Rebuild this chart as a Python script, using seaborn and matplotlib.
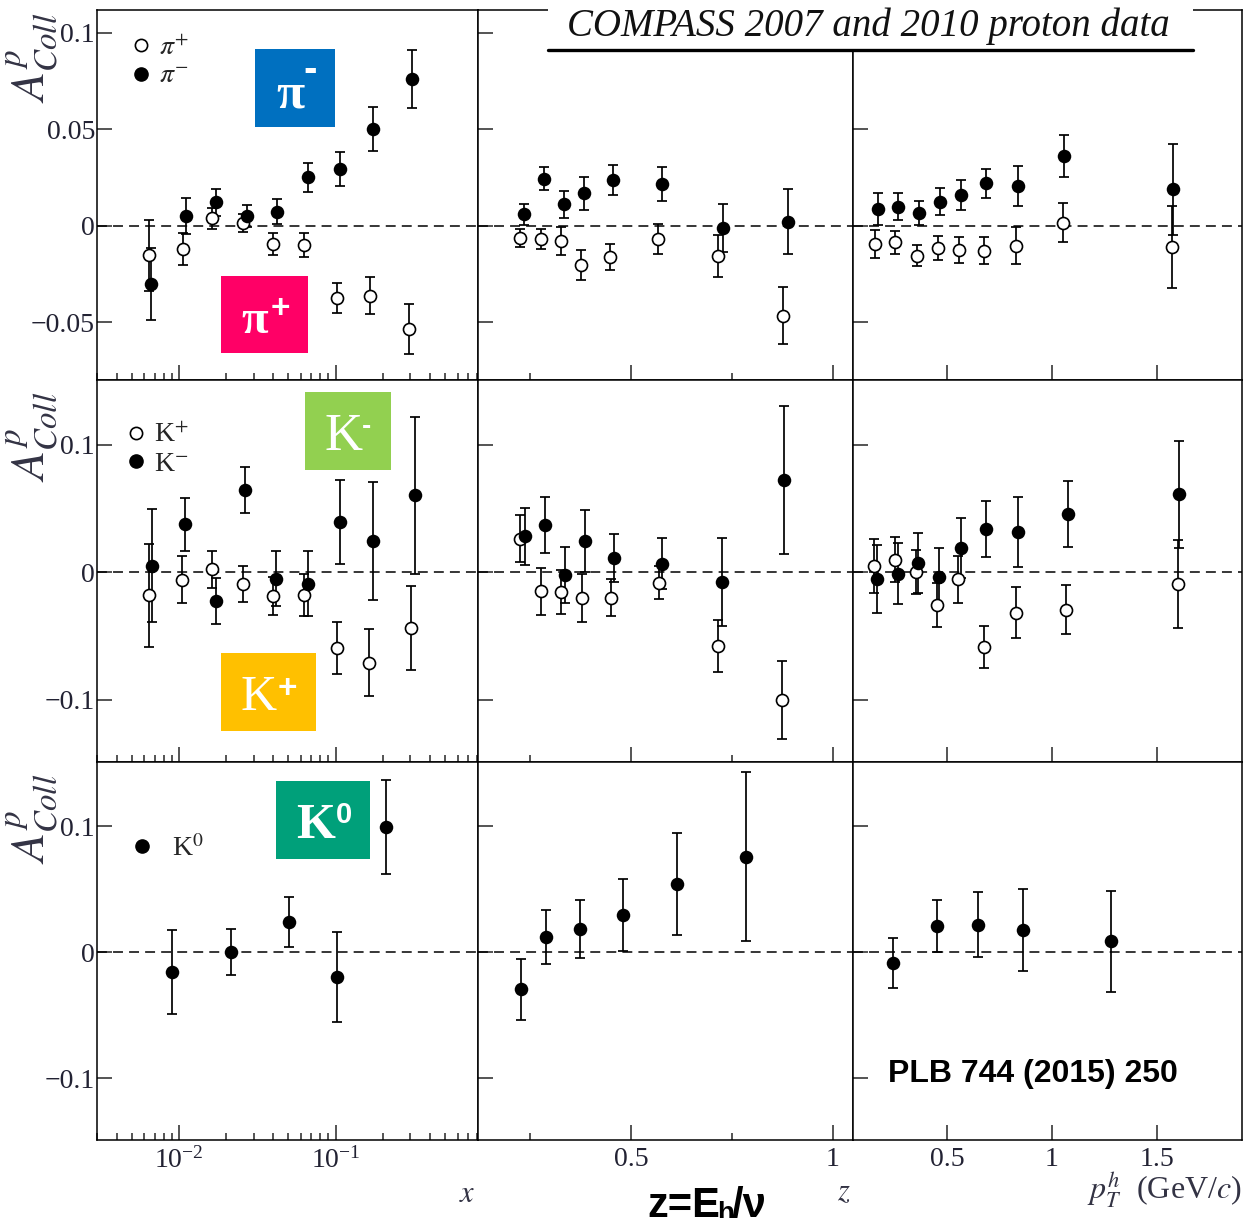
import matplotlib
matplotlib.use("Agg")
import matplotlib.pyplot as plt
import seaborn as sns
from matplotlib.lines import Line2D
from matplotlib.patches import Rectangle
from matplotlib.ticker import LogLocator, NullFormatter, FixedLocator

# ---- data: A_Coll^p vs x, z, pT ----
# pi- / pi+ , x bins
pim_x = [0.00665, 0.01114, 0.01719, 0.0270, 0.0420, 0.0664, 0.1061, 0.1734, 0.3084]
pim_x_val = [-0.0300, 0.0052, 0.0123, 0.0052, 0.0074, 0.0252, 0.0295, 0.0503, 0.0762]
pim_x_err = [0.0185, 0.0095, 0.0069, 0.0055, 0.0064, 0.0074, 0.0088, 0.0114, 0.0150]
pip_x = [0.00642, 0.01066, 0.01635, 0.0255, 0.0396, 0.0626, 0.1025, 0.1652, 0.2937]
pip_x_val = [-0.0152, -0.0121, 0.0040, 0.0017, -0.0093, -0.0098, -0.0371, -0.0361, -0.0534]
pip_x_err = [0.0183, 0.0083, 0.0055, 0.0047, 0.0055, 0.0064, 0.0078, 0.0095, 0.0130]

# pi, z bins
pim_z = [0.235, 0.285, 0.335, 0.384, 0.456, 0.576, 0.728, 0.889]
pim_z_val = [0.0060, 0.0244, 0.0112, 0.0169, 0.0238, 0.0216, -0.0012, 0.0022]
pim_z_err = [0.0055, 0.0059, 0.0069, 0.0085, 0.0076, 0.0089, 0.0124, 0.0168]
pip_z = [0.225, 0.276, 0.326, 0.375, 0.448, 0.566, 0.716, 0.877]
pip_z_val = [-0.0064, -0.0069, -0.0076, -0.0202, -0.0159, -0.0069, -0.0155, -0.0465]
pip_z_err = [0.0046, 0.0052, 0.0072, 0.0078, 0.0067, 0.0078, 0.0110, 0.0147]

# pi, pT bins
pim_pt = [0.173, 0.268, 0.367, 0.467, 0.565, 0.684, 0.837, 1.059, 1.578]
pim_pt_val = [0.0086, 0.0100, 0.0066, 0.0126, 0.0161, 0.0221, 0.0207, 0.0364, 0.0190]
pim_pt_err = [0.0083, 0.0069, 0.0062, 0.0069, 0.0078, 0.0074, 0.0104, 0.0109, 0.0237]
pip_pt = [0.157, 0.252, 0.356, 0.456, 0.557, 0.676, 0.829, 1.051, 1.570]
pip_pt_val = [-0.0095, -0.0085, -0.0154, -0.0116, -0.0124, -0.0128, -0.0102, 0.0017, -0.0110]
pip_pt_err = [0.0072, 0.0060, 0.0055, 0.0062, 0.0069, 0.0069, 0.0097, 0.0100, 0.0212]

# K- / K+ , x bins
km_x = [0.00675, 0.01093, 0.01719, 0.0265, 0.0417, 0.0664, 0.1061, 0.1734, 0.3209]
km_x_val = [0.0050, 0.0376, -0.0225, 0.0648, -0.0050, -0.0089, 0.0395, 0.0246, 0.0604]
km_x_err = [0.0444, 0.0210, 0.0183, 0.0180, 0.0214, 0.0254, 0.0332, 0.0465, 0.0617]
kp_x = [0.00642, 0.01049, 0.01621, 0.0255, 0.0396, 0.0626, 0.1025, 0.1635, 0.3027]
kp_x_val = [-0.0180, -0.0058, 0.0024, -0.0089, -0.0186, -0.0180, -0.0593, -0.0711, -0.0434]
kp_x_err = [0.0403, 0.0183, 0.0144, 0.0141, 0.0152, 0.0167, 0.0204, 0.0264, 0.0330]

# K, z bins
km_z = [0.238, 0.287, 0.337, 0.386, 0.458, 0.576, 0.726, 0.879]
km_z_val = [0.0282, 0.0369, -0.0024, 0.0246, 0.0112, 0.0068, -0.0076, 0.0727]
km_z_err = [0.0222, 0.0220, 0.0220, 0.0246, 0.0190, 0.0200, 0.0345, 0.0580]
kp_z = [0.225, 0.276, 0.326, 0.378, 0.450, 0.569, 0.716, 0.875]
kp_z_val = [0.0264, -0.0149, -0.0154, -0.0201, -0.0199, -0.0081, -0.0578, -0.1004]
kp_z_err = [0.0183, 0.0183, 0.0170, 0.0188, 0.0144, 0.0130, 0.0204, 0.0308]

# K, pT bins
km_pt = [0.165, 0.265, 0.363, 0.462, 0.565, 0.684, 0.837, 1.078, 1.606]
km_pt_val = [-0.0055, -0.0010, 0.0073, -0.0037, 0.0191, 0.0337, 0.0316, 0.0460, 0.0612]
km_pt_err = [0.0267, 0.0238, 0.0235, 0.0227, 0.0238, 0.0220, 0.0275, 0.0260, 0.0418]
kp_pt = [0.154, 0.252, 0.352, 0.454, 0.554, 0.676, 0.827, 1.067, 1.598]
kp_pt_val = [0.0050, 0.0099, 0.0003, -0.0254, -0.0055, -0.0586, -0.0316, -0.0293, -0.0089]
kp_pt_err = [0.0212, 0.0175, 0.0173, 0.0173, 0.0183, 0.0167, 0.0200, 0.0190, 0.0345]

# K0
k0_x = [0.00906, 0.02164, 0.0502, 0.102, 0.2083]
k0_x_val = [-0.0156, 0.0003, 0.0241, -0.0196, 0.0995]
k0_x_err = [0.0336, 0.0185, 0.0198, 0.0360, 0.0370]
k0_z = [0.227, 0.290, 0.374, 0.481, 0.615, 0.784]
k0_z_val = [-0.0294, 0.0122, 0.0188, 0.0299, 0.0545, 0.0757]
k0_z_err = [0.0240, 0.0214, 0.0230, 0.0286, 0.0405, 0.0670]
k0_pt = [0.241, 0.451, 0.649, 0.863, 1.281]
k0_pt_val = [-0.0082, 0.0209, 0.0220, 0.0175, 0.0087]
k0_pt_err = [0.0198, 0.0206, 0.0257, 0.0325, 0.0400]

# axis ticks / labels
yticks_pi = [-0.05, 0, 0.05, 0.1]
ylabels_pi = ["\u22120.05", "0", "0.05", "0.1"]
yticks_k = [-0.1, 0, 0.1]
ylabels_k = ["\u22120.1", "0", "0.1"]
zticks = [0.5, 1]
zticks_minor = [0.25, 0.75]
ptticks = [0.5, 1, 1.5]

sns.set_theme(style="ticks")
plt.rcParams["font.family"] = ["Liberation Serif", "DejaVu Serif"]
plt.rcParams["mathtext.fontset"] = "stix"
plt.rcParams["axes.linewidth"] = 1.1

W, H = 1250, 1218
fig = plt.figure(figsize=(12.5, 12.18), dpi=100)


def fx(px):
    return px / W


def fy(py):
    return 1 - py / H


cols = [(97, 478), (478, 853), (853, 1242)]
rows = [(10, 380), (380, 762), (762, 1140)]
xlims = [(0.003, 0.81), (0.121, 1.05), (0.052, 1.905)]
ylims = [(-0.0798, 0.1119), (-0.149, 0.151), (-0.149, 0.151)]

series = [
    [[(pip_x, pip_x_val, pip_x_err, False), (pim_x, pim_x_val, pim_x_err, True)],
     [(pip_z, pip_z_val, pip_z_err, False), (pim_z, pim_z_val, pim_z_err, True)],
     [(pip_pt, pip_pt_val, pip_pt_err, False), (pim_pt, pim_pt_val, pim_pt_err, True)]],
    [[(kp_x, kp_x_val, kp_x_err, False), (km_x, km_x_val, km_x_err, True)],
     [(kp_z, kp_z_val, kp_z_err, False), (km_z, km_z_val, km_z_err, True)],
     [(kp_pt, kp_pt_val, kp_pt_err, False), (km_pt, km_pt_val, km_pt_err, True)]],
    [[(k0_x, k0_x_val, k0_x_err, True)],
     [(k0_z, k0_z_val, k0_z_err, True)],
     [(k0_pt, k0_pt_val, k0_pt_err, True)]],
]

axes = [[None] * 3 for _ in range(3)]
for r, (y0, y1) in enumerate(rows):
    for c, (x0, x1) in enumerate(cols):
        ax = fig.add_axes([fx(x0), fy(y1), (x1 - x0) / W, (y1 - y0) / H])
        axes[r][c] = ax
        if c == 0:
            ax.set_xscale("log")
        ax.set_xlim(*xlims[c])
        ax.set_ylim(*ylims[r])
        ax.axhline(0, color="black", lw=1.1, ls=(0, (6.5, 4)), zorder=1)
        for xs, ys, es, filled in series[r][c]:
            ax.errorbar(xs, ys, yerr=es, fmt="none", ecolor="black",
                        elinewidth=1.25, capsize=3.6, capthick=1.25, zorder=2)
            if filled:
                sns.scatterplot(x=xs, y=ys, ax=ax, color="black", s=95,
                                edgecolor="black", linewidth=0, zorder=3)
            else:
                sns.scatterplot(x=xs, y=ys, ax=ax, color="white", s=75,
                                edgecolor="black", linewidth=1.2, zorder=3)
        ax.set_xlabel("")
        ax.set_ylabel("")

        # ticks
        if c == 0:
            ax.xaxis.set_major_locator(LogLocator(base=10, numticks=10))
            ax.xaxis.set_minor_locator(LogLocator(base=10, subs=range(2, 10), numticks=20))
            ax.xaxis.set_minor_formatter(NullFormatter())
        elif c == 1:
            ax.set_xticks(zticks, ["0.5", "1"])
            ax.xaxis.set_minor_locator(FixedLocator(zticks_minor))
        else:
            ax.set_xticks(ptticks, ["0.5", "1", "1.5"])
        if r == 0:
            ax.set_yticks(yticks_pi, ylabels_pi if c == 0 else [])
        else:
            ax.set_yticks(yticks_k, ylabels_k if c == 0 else [])
        ax.tick_params(which="both", direction="in", top=False, right=False,
                       labelsize=20, labelcolor="#222233", width=1.1)
        ax.tick_params(which="major", length=11, pad=5)
        ax.tick_params(which="minor", length=5)
        ax.tick_params(axis="y", pad=1.5)
        if r < 2:
            ax.tick_params(labelbottom=False)
        for s in ax.spines.values():
            s.set_color("black")

# y labels
for r, yfrac in zip(range(3), [0.87, 0.85, 0.85]):
    ax = axes[r][0]
    ax.set_ylabel(r"$A^{p}_{Coll}$", fontsize=34, color="#333344")
    ax.yaxis.set_label_coords(-0.097, yfrac)

# legends
open_h = Line2D([], [], marker="o", ls="none", mfc="white", mec="black", ms=8.8, mew=1.2)
full_h = Line2D([], [], marker="o", ls="none", mfc="black", mec="black", ms=9.5)
leg_kw = dict(loc="upper left", frameon=False, fontsize=20, handlelength=0.6,
              handletextpad=0.35, labelspacing=0.12, borderpad=0, borderaxespad=0)
axes[0][0].legend([open_h, full_h], [r"$\pi^{+}$", r"$\pi^{-}$"],
                  bbox_to_anchor=(0.094, 0.932), **leg_kw)
axes[1][0].legend([open_h, full_h], [r"K$^{+}$", r"K$^{-}$"],
                  bbox_to_anchor=(0.081, 0.888), **leg_kw)
axes[2][0].legend([full_h], [r"K$^{0}$"], handletextpad=0.8,
                  **{k: v for k, v in leg_kw.items() if k != "handletextpad"},
                  bbox_to_anchor=(0.096, 0.807))

# coloured particle tags
tags = [
    # box x0, x1, y0, y1, colour, base, base-left, base-baseline, base-size, bold, sup, sup-left, sup-baseline, sup-size
    (255, 335, 49, 127, "#0070C0", "\u03c0", 276, 107, 37, "bold", "-", 303, 81, 29),
    (221, 308, 276, 353, "#FF0066", "\u03c0", 241, 333, 35, "bold", "+", 271, 318, 24),
    (305, 391, 392, 470, "#92D050", "K", 324, 450, 38, "normal", "-", 362, 434, 20),
    (221, 316, 653, 731, "#FFC000", "K", 241, 710, 36, "normal", "+", 278, 698, 24),
    (276, 370, 781, 859, "#00A07A", "K", 296, 838, 36, "bold", "0", 336, 823, 21),
]
for bx0, bx1, by0, by1, col, base, tx, ty, ts, tw, sup, sx, sy, ss in tags:
    fig.patches.append(Rectangle((fx(bx0), fy(by1)), (bx1 - bx0) / W, (by1 - by0) / H,
                                 transform=fig.transFigure, facecolor=col,
                                 edgecolor="none", zorder=5))
    fig.text(fx(tx), fy(ty), base, color="white", fontsize=ts, fontweight=tw,
             family="Liberation Serif", ha="left", va="baseline", zorder=6)
    fig.text(fx(sx), fy(sy), sup, color="white", fontsize=ss, fontweight="bold",
             family="Liberation Sans", ha="left", va="baseline", zorder=6)

# title box over the top frame
fig.patches.append(Rectangle((fx(548), fy(49)), (1193 - 548) / W, 49 / H,
                             transform=fig.transFigure, facecolor="white",
                             edgecolor="none", zorder=5))
fig.lines.append(Line2D([fx(548), fx(1193)], [fy(50), fy(50)], transform=fig.transFigure,
                        color="black", lw=2.4, zorder=6))
fig.text(fx(567), fy(36), "COMPASS 2007 and 2010 proton data", fontsize=28,
         style="italic", color="#111111", ha="left", va="baseline", zorder=7)

# axis titles
fig.text(fx(467), fy(1195), r"$x$", fontsize=22, ha="center", va="center", color="#333344")
fig.text(fx(844), fy(1193), r"$z$", fontsize=22, ha="center", va="center", color="#333344")
fig.text(fx(1242), fy(1190), r"$p_{T}^{h}$  (GeV/$c$)", fontsize=23, ha="right",
         va="center", color="#333344")

# annotations
fig.text(fx(647), fy(1217), "z=E", fontsize=30, fontweight="bold", color="black",
         family="Liberation Sans", ha="left", va="baseline")
fig.text(fx(717), fy(1221), "h", fontsize=20, fontweight="bold", color="black",
         family="Liberation Sans", ha="left", va="baseline")
fig.text(fx(732), fy(1217), "/\u03bd", fontsize=30, fontweight="bold", color="black",
         family="Liberation Sans", ha="left", va="baseline")
fig.text(fx(888), fy(1082), "PLB 744 (2015) 250", fontsize=23, fontweight="bold",
         color="black", family="Liberation Sans", ha="left", va="baseline")

fig.savefig("out.png", dpi=100)
